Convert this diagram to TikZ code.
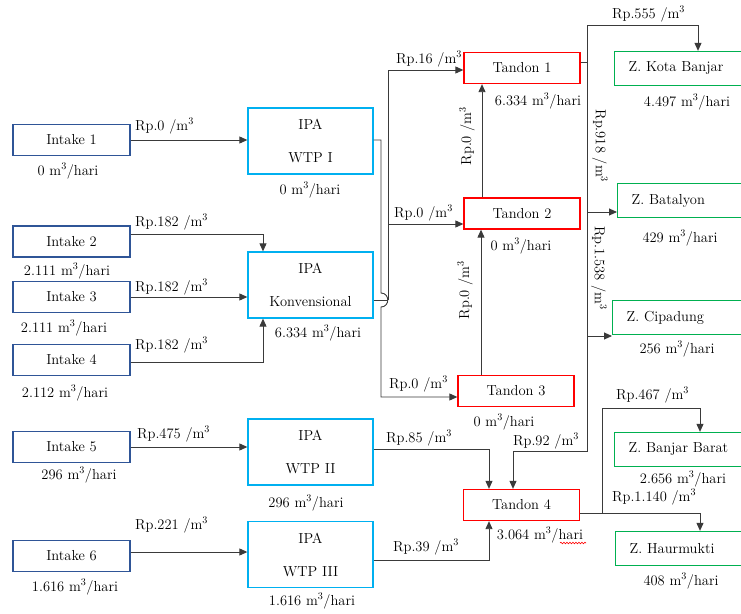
\documentclass[tikz,border=0pt]{standalone}
\usetikzlibrary{arrows.meta,decorations.pathmorphing,calc}
\definecolor{intakeblue}{HTML}{2F5597}
\definecolor{ipacyan}{HTML}{00B0F0}
\definecolor{tandonred}{HTML}{FF0000}
\definecolor{zonegreen}{HTML}{00B050}
\definecolor{linegray}{HTML}{3A3A3A}
\newcommand\mkub{m\textsuperscript{3}}
\begin{document}
\begin{tikzpicture}[x=1pt,y=-1pt, font=\fontsize{14.5}{17}\selectfont,
 intakebox/.style={draw=intakeblue,line width=1.3pt,minimum width=117pt,minimum height=31pt,inner sep=0pt},
 ipabox/.style={draw=ipacyan,line width=1.3pt,minimum width=125pt,minimum height=66pt,align=center,inner sep=0pt},
 tandonbox/.style={draw=tandonred,line width=1.3pt,minimum width=116pt,minimum height=31pt,inner sep=0pt},
 zonebox/.style={draw=zonegreen,line width=1.3pt,minimum height=34pt,text width=118pt,inner xsep=14pt,inner ysep=0pt,align=left,anchor=west,minimum width=146pt},
 lbl/.style={inner sep=0pt},
 cost/.style={inner sep=0pt,anchor=west},
 conn/.style={draw=linegray,line width=0.9pt},
 arr/.style={conn,-{Triangle[length=8pt,width=7pt]}},
]
\useasboundingbox (0,0) rectangle (741,613);
\clip (0,0) rectangle (741,613);

% Intakes
\node[intakebox] (i1) at (71.5,140) {Intake 1};
\node[intakebox] (i2) at (71.5,241.5) {Intake 2};
\node[intakebox] (i3) at (71.5,297) {Intake 3};
\node[intakebox] (i4) at (71.5,360) {Intake 4};
\node[intakebox] (i5) at (71.5,447) {Intake 5};
\node[intakebox] (i6) at (71.5,556) {Intake 6};

% IPA
\node[ipabox] (ipa1) at (310.5,141) {IPA\\[16pt]WTP I};
\node[ipabox] (konv) at (310.5,285) {IPA\\[16pt]Konvensional};
\node[ipabox] (wtp2) at (310.5,452) {IPA\\[16pt]WTP II};
\node[ipabox] (wtp3) at (310.5,554.5) {IPA\\[16pt]WTP III};

% Tandon
\node[tandonbox] (t1) at (522,68) {Tandon 1};
\node[tandonbox] (t2) at (522,213.5) {Tandon 2};
\node[tandonbox] (t3) at (516,391) {Tandon 3};
\node[tandonbox] (t4) at (521.5,505) {Tandon 4};

% Zones
\node[zonebox] (kb) at (614,68.5) {Z. Kota Banjar};
\node[zonebox] (bat) at (617,200.5) {Z. Batalyon};
\node[zonebox] (cip) at (612,317.5) {Z. Cipadung};
\node[zonebox] (bb) at (614,449.5) {Z. Banjar Barat};
\node[zonebox] (hm) at (615,548.5) {Z. Haurmukti};

% flow labels
\node[lbl] (fi1) at (68,171) {0 \mkub/hari};
\node[lbl] (fi2) at (67,271) {2.111 \mkub/hari};
\node[lbl] (fi3) at (64,328) {2.111 \mkub/hari};
\node[lbl] (fi4) at (65,393) {2.112 \mkub/hari};
\node[lbl] (fi5) at (79,475) {296 \mkub/hari};
\node[lbl] (fi6) at (75,587) {1.616 \mkub/hari};
\node[lbl] (fipa1) at (310,190) {0 \mkub/hari};
\node[lbl] (fkonv) at (318,333) {6.334 \mkub/hari};
\node[lbl] (fwtp2) at (306,503) {296 \mkub/hari};
\node[lbl] (fwtp3) at (312,601) {1.616 \mkub/hari};
\node[lbl] (ft1) at (538,101) {6.334 \mkub/hari};
\node[lbl] (ft2) at (521,246) {0 \mkub/hari};
\node[lbl] (ft3) at (504,422) {0 \mkub/hari};
\node[lbl] (ft4) at (540,535) {3.064 \mkub/hari};
\node[lbl] (fkb) at (687,102) {4.497 \mkub/hari};
\node[lbl] (fbat) at (680,238) {429 \mkub/hari};
\node[lbl] (fcip) at (677,349) {256 \mkub/hari};
\node[lbl] (fbb) at (683,479) {2.656 \mkub/hari};
\node[lbl] (fhm) at (681,581) {408 \mkub/hari};
\draw[red,line width=0.6pt,decorate,decoration={snake,segment length=3pt,amplitude=0.8pt}] (560,543) -- (586,543);

% cost labels
\node[cost] (c1) at (135,126) {Rp.0 /\mkub};
\node[cost] (c2) at (135,222) {Rp.182 /\mkub};
\node[cost] (c3) at (135,287) {Rp.182 /\mkub};
\node[cost] (c4) at (135,345) {Rp.182 /\mkub};
\node[cost] (c5) at (137,434) {Rp.475 /\mkub};
\node[cost] (c6) at (135,525) {Rp.221 /\mkub};
\node[cost] (c7) at (396,59) {Rp.16 /\mkub};
\node[cost] (c8) at (394,213) {Rp.0 /\mkub};
\node[cost] (c9) at (389,384) {Rp.0 /\mkub};
\node[cost] (c10) at (386,438) {Rp.85 /\mkub};
\node[cost] (c11) at (393,547) {Rp.39 /\mkub};
\node[cost] (c12) at (513,441) {Rp.92 /\mkub};
\node[cost] (c13) at (612,14) {Rp.555 /\mkub};
\node[cost] (c14) at (616,395) {Rp.467 /\mkub};
\node[cost] (c15) at (612,497) {Rp.1.140 /\mkub};
\node[lbl,rotate=-90] (c16) at (600,146) {Rp.918 /\mkub};
\node[lbl,rotate=-90] (c17) at (599,268) {Rp.1.538 /\mkub};
\node[lbl,rotate=90] (c18) at (467,136) {Rp.0 /\mkub};
\node[lbl,rotate=90] (c19) at (465,290) {Rp.0 /\mkub};

% intake connectors
\draw[arr] (i1.east) -- (i1.east -| ipa1.west);
\draw[arr] ([yshift=7pt]i2.east) -| ([xshift=-47.5pt]konv.north);
\draw[arr] (i3.east) -- (i3.east -| konv.west);
\draw[arr] ([yshift=-2pt]i4.east) -| ([xshift=-47.5pt]konv.south);
\draw[arr] (i5.east) -- (i5.east -| wtp2.west);
\draw[arr] ([yshift=4pt]i6.east) -- ([yshift=4pt]i6.east -| wtp3.west);

% WTP I -> Tandon 3 (with line jump)
\coordinate (h1) at (381,293);
\coordinate (h2) at (381,307);
\draw[arr] ([yshift=1pt]ipa1.east) -| (h1) .. controls +(9,0) and +(9,0) .. (h2) |- ([yshift=-6pt]t3.west);

% Konvensional -> Tandon 1, Tandon 2
\coordinate (kj) at (388,300);
\draw[conn] ([yshift=-15pt]konv.east) -- (kj);
\draw[arr] (kj) |- ([yshift=-2pt]t1.west);
\draw[arr] ([yshift=-10.5pt]t2.west -| kj) -- ([yshift=-10.5pt]t2.west);

% Tandon 2 -> 1, Tandon 3 -> 2
\draw[arr] ([xshift=-40pt]t2.north) -- ([xshift=-40pt]t1.south);
\draw[arr] ([xshift=-35pt]t3.north) -- ([xshift=-41pt]t2.south);

% Tandon 1 -> zones and Tandon 4
\coordinate (rb) at (587,62);
\coordinate (kbx) at (698,25);
\coordinate (rb2) at (587,212);
\coordinate (rb3) at (587,336);
\coordinate (rb4) at (587,451);
\draw[conn] ([yshift=6pt]t1.east) -- (rb);
\draw[arr] (rb) |- (kbx) -- (kbx |- kb.north);
\draw[arr] (rb2) -- (rb2 -| bat.west);
\draw[arr] (rb3) -- (rb3 -| cip.west);
\draw[arr] (rb) -- (rb4) -| ([xshift=-8.5pt]t4.north);

% WTP II, WTP III -> Tandon 4
\draw[arr] ([yshift=3pt]wtp2.east) -| ([xshift=-32.5pt]t4.north);
\draw[arr] ([yshift=-5.5pt]wtp3.east) -| ([xshift=-32.5pt]t4.south);

% Tandon 4 -> zones
\coordinate (tj) at (602,513);
\coordinate (bbx) at (700,408);
\coordinate (hmx) at (700,513);
\draw[conn] ([yshift=-8pt]t4.east) -- (tj);
\draw[arr] (tj) |- (bbx) -- (bbx |- bb.north);
\draw[arr] (tj) -- (hmx) -- (hmx |- hm.north);
\end{tikzpicture}
\end{document}
